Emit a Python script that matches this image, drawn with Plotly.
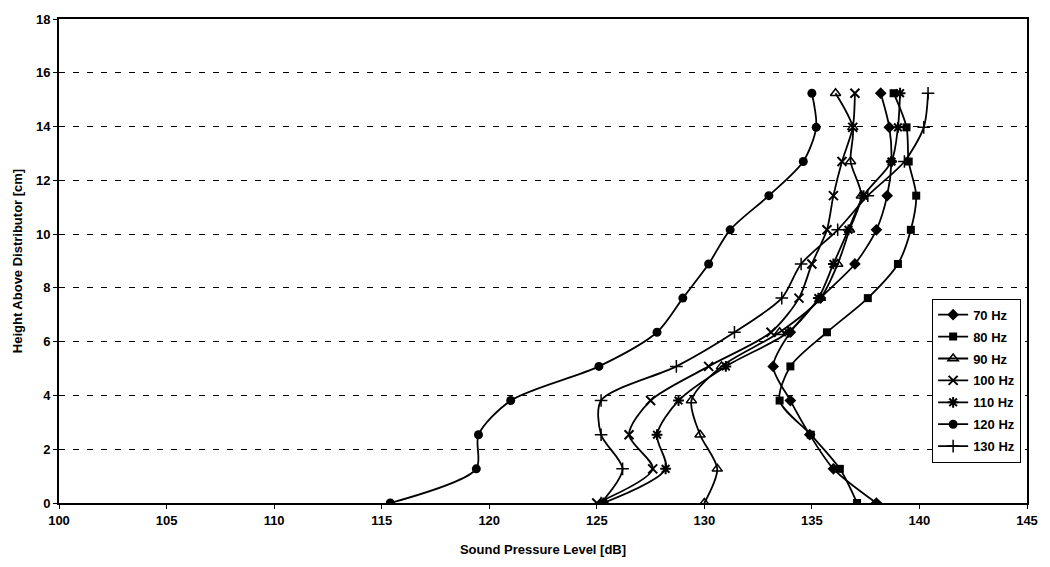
import plotly.graph_objects as go

# Measurement heights above the distributor [cm] (0.5 inch steps)
heights = [0.0, 1.27, 2.54, 3.81, 5.08, 6.35, 7.62, 8.89, 10.16, 11.43, 12.70, 13.97, 15.24]

# Sound pressure level [dB] at each height, one list per excitation frequency
spl_70 = [138.0, 136.0, 134.9, 134.0, 133.2, 134.0, 135.4, 137.0, 138.0, 138.5, 138.7, 138.6, 138.2]
spl_80 = [137.1, 136.3, 134.95, 133.5, 134.0, 135.7, 137.6, 139.0, 139.6, 139.85, 139.5, 139.4, 138.8]
spl_90 = [130.0, 130.6, 129.8, 129.4, 130.8, 133.5, 135.4, 136.2, 136.75, 137.3, 136.8, 136.9, 136.1]
spl_100 = [125.0, 127.6, 126.5, 127.5, 130.2, 133.1, 134.4, 135.0, 135.7, 136.0, 136.4, 136.9, 137.0]
spl_110 = [125.3, 128.2, 127.8, 128.8, 131.0, 133.9, 135.3, 136.0, 136.7, 137.4, 138.7, 139.0, 139.1]
spl_120 = [115.4, 119.4, 119.5, 121.0, 125.1, 127.8, 129.0, 130.2, 131.2, 133.0, 134.6, 135.2, 135.0]
spl_130 = [125.2, 126.2, 125.2, 125.2, 128.7, 131.4, 133.6, 134.5, 136.2, 137.6, 139.3, 140.2, 140.4]

series_names = ["70 Hz", "80 Hz", "90 Hz", "100 Hz", "110 Hz", "120 Hz", "130 Hz"]
series_values = [spl_70, spl_80, spl_90, spl_100, spl_110, spl_120, spl_130]
x_ticks = [100, 105, 110, 115, 120, 125, 130, 135, 140, 145]
y_ticks = [0, 2, 4, 6, 8, 10, 12, 14, 16, 18]

marker_styles = [
    dict(symbol="diamond", size=9, color="black"),
    dict(symbol="square", size=8, color="black"),
    dict(symbol="triangle-up-open", size=9, color="black", line=dict(width=1.5, color="black")),
    dict(symbol="x-thin-open", size=9, color="black", line=dict(width=2, color="black")),
    dict(symbol="asterisk-open", size=9, color="black", line=dict(width=2, color="black")),
    dict(symbol="circle", size=9, color="black"),
    dict(symbol="cross-thin-open", size=9, color="black", line=dict(width=1.5, color="black")),
]

FONT = "Arial, 'Liberation Sans', sans-serif"

fig = go.Figure()
for i, (name, vals, mk) in enumerate(zip(series_names, series_values, marker_styles)):
    fig.add_trace(go.Scatter(
        x=vals, y=heights, name=name, mode="lines+markers",
        line=dict(color="black", width=1.8, shape="spline", smoothing=0.8),
        marker=mk, legendgroup=f"g{i}",
    ))

fig.update_layout(
    width=1050, height=567,
    margin=dict(l=59, r=16, t=16, b=63),
    paper_bgcolor="white", plot_bgcolor="white",
    font=dict(family=FONT, color="black"),
    showlegend=True,
    legend=dict(
        x=0.902, y=0.422, xanchor="left", yanchor="top",
        bordercolor="black", borderwidth=1, bgcolor="white",
        font=dict(family=FONT, size=13, color="black", weight="bold"),
        traceorder="grouped", tracegroupgap=2,
        itemwidth=30,
    ),
)

fig.update_xaxes(
    range=[100, 145], tickvals=x_ticks, ticktext=[str(v) for v in x_ticks],
    showgrid=False, zeroline=False,
    showline=True, linecolor="black", linewidth=2, mirror=True,
    ticks="outside", ticklen=4, tickcolor="black",
    tickfont=dict(family=FONT, size=13, color="black", weight="bold"),
    title=dict(text="<b>Sound Pressure Level [dB]</b>", font=dict(family=FONT, size=13), standoff=18),
)
fig.update_yaxes(
    range=[0, 18], tickvals=y_ticks, ticktext=[str(v) for v in y_ticks],
    showgrid=True, gridcolor="black", gridwidth=1.3, griddash="6px,8px",
    zeroline=False,
    showline=True, linecolor="black", linewidth=2, mirror=True,
    ticks="outside", ticklen=4, tickcolor="black",
    tickfont=dict(family=FONT, size=13, color="black", weight="bold"),
    title=dict(text="<b>Height Above Distributor [cm]</b>", font=dict(family=FONT, size=13), standoff=10),
)

fig.write_html("out.html")
